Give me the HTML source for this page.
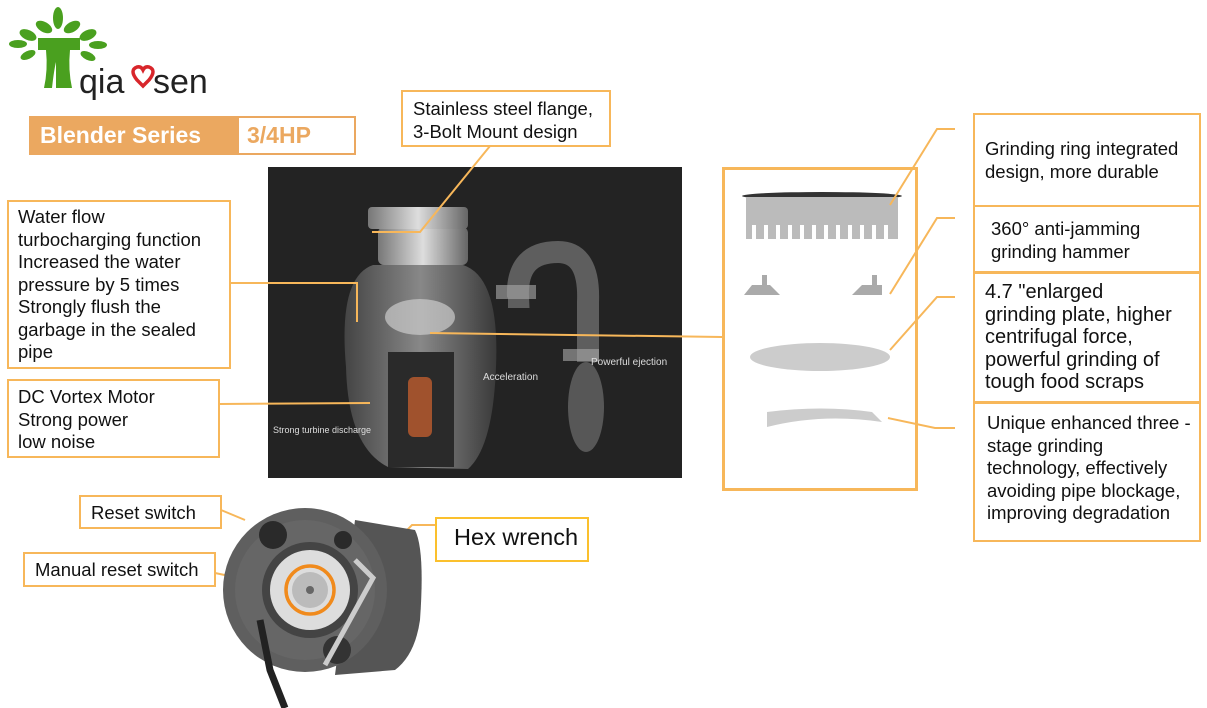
<!DOCTYPE html>
<html><head><meta charset="utf-8"><style>
body{margin:0;width:1207px;height:708px;background:#fff;position:relative;overflow:hidden;font-family:"Liberation Sans",Arial,sans-serif;color:#111}
.b{position:absolute;border:2px solid #f7b75a;box-sizing:border-box;font-size:18.5px;line-height:22.5px;background:#fff;white-space:nowrap}
.t{position:absolute;white-space:nowrap}
</style></head><body>
<!-- logo -->
<svg style="position:absolute;left:0;top:0" width="240" height="110">
 <g fill="#4aa01f">
  <ellipse cx="58" cy="18" rx="5" ry="11"/>
  <ellipse cx="44" cy="27" rx="9" ry="5" transform="rotate(30 44 27)"/>
  <ellipse cx="72" cy="27" rx="9" ry="5" transform="rotate(-30 72 27)"/>
  <ellipse cx="28" cy="35" rx="9" ry="5" transform="rotate(25 28 35)"/>
  <ellipse cx="88" cy="35" rx="9" ry="5" transform="rotate(-25 88 35)"/>
  <ellipse cx="18" cy="44" rx="9" ry="4" />
  <ellipse cx="98" cy="45" rx="9" ry="4" />
  <ellipse cx="28" cy="55" rx="8" ry="4" transform="rotate(-25 28 55)"/>
  <ellipse cx="88" cy="56" rx="8" ry="4" transform="rotate(25 88 56)"/>
  <path d="M38 38 L80 38 L80 50 L70 50 Q68 70 72 88 L56 88 L56 62 Q54 70 52 88 L44 88 Q48 70 46 50 L38 50Z"/>
 </g>
 <text x="79" y="93" font-family="Liberation Sans" font-size="34" fill="#222">qia</text>
 <path d="M137 80 q-8 -10 0 -13 q4 -1 6 3 q2 -4 6 -3 q8 3 0 13 l-6 6z" fill="none" stroke="#d8262b" stroke-width="3.5"/>
 <text x="153" y="93" font-family="Liberation Sans" font-size="34" fill="#222">sen</text>
</svg>
<div style="position:absolute;left:29px;top:116px;width:209px;height:39px;background:#eba860"></div>
<div class="t" style="left:40px;top:122px;font-size:23px;font-weight:bold;color:#fff">Blender Series</div>
<div style="position:absolute;left:237px;top:116px;width:119px;height:39px;border:2px solid #eba860;box-sizing:border-box;background:#fff"></div>
<div class="t" style="left:247px;top:122px;font-size:23px;font-weight:bold;color:#eba860">3/4HP</div>

<!-- photo -->
<svg style="position:absolute;left:268px;top:167px" width="414" height="311">
 <rect width="414" height="311" fill="#232323"/>
 <defs>
  <linearGradient id="g1" x1="0" x2="1"><stop offset="0" stop-color="#444"/><stop offset=".5" stop-color="#888"/><stop offset="1" stop-color="#3a3a3a"/></linearGradient>
  <linearGradient id="g2" x1="0" x2="1"><stop offset="0" stop-color="#777"/><stop offset=".5" stop-color="#ddd"/><stop offset="1" stop-color="#666"/></linearGradient>
 </defs>
 <path d="M105 98 Q70 110 78 200 Q80 280 120 300 L200 302 Q225 280 228 200 Q232 110 195 98Z" fill="url(#g1)"/>
 <rect x="110" y="60" width="90" height="38" rx="6" fill="url(#g2)"/>
 <rect x="100" y="40" width="100" height="22" rx="4" fill="url(#g2)"/>
 <rect x="120" y="185" width="66" height="115" fill="#2a2a2a"/>
 <rect x="140" y="210" width="24" height="60" rx="6" fill="#a0522d"/>
 <ellipse cx="152" cy="150" rx="35" ry="18" fill="#ccc" opacity=".7"/>
 <path d="M240 130 L250 130 Q248 85 290 85 Q322 85 320 135 L320 195" fill="none" stroke="#999" stroke-width="22" opacity=".5"/>
 <rect x="228" y="118" width="40" height="14" fill="#aaa" opacity=".6"/>
 <rect x="295" y="182" width="36" height="12" fill="#aaa" opacity=".6"/>
 <ellipse cx="318" cy="240" rx="18" ry="45" fill="#bbb" opacity=".35"/>
 <text x="215" y="213" fill="#ddd" font-size="10">Acceleration</text>
 <text x="323" y="198" fill="#ddd" font-size="10">Powerful ejection</text>
 <text x="5" y="266" fill="#ddd" font-size="9">Strong turbine discharge</text>
</svg>

<!-- parts panel -->
<div style="position:absolute;left:722px;top:167px;width:196px;height:324px;border:3px solid #f7b75a;box-sizing:border-box"></div>
<svg style="position:absolute;left:722px;top:167px" width="196" height="324">
 <ellipse cx="100" cy="29" rx="80" ry="4" fill="#333"/>
 <rect x="24" y="30" width="152" height="42" fill="#bbb"/>
 <g fill="#fff">
  <rect x="30" y="58" width="4" height="16"/><rect x="42" y="58" width="4" height="16"/><rect x="54" y="58" width="4" height="16"/><rect x="66" y="58" width="4" height="16"/><rect x="78" y="58" width="4" height="16"/><rect x="90" y="58" width="4" height="16"/><rect x="102" y="58" width="4" height="16"/><rect x="114" y="58" width="4" height="16"/><rect x="126" y="58" width="4" height="16"/><rect x="138" y="58" width="4" height="16"/><rect x="150" y="58" width="4" height="16"/><rect x="162" y="58" width="4" height="16"/>
 </g>
 <path d="M30 118 h18 l10 10 h-36z M40 108 h5 v12 h-5z" fill="#aaa"/>
 <path d="M130 128 l10 -10 h20 v10z M150 108 h5 v12 h-5z" fill="#aaa"/>
 <ellipse cx="98" cy="190" rx="70" ry="14" fill="#ccc"/>
 <path d="M45 245 Q100 238 150 245 L160 255 Q100 246 45 260Z" fill="#ccc"/>
</svg>

<!-- connector lines -->
<svg style="position:absolute;left:0;top:0" width="1207" height="708" fill="none" stroke="#f7b75a" stroke-width="2">
 <polyline points="490,146 420,232 372,232"/>
 <polyline points="230,283 357,283 357,322"/>
 <line x1="219" y1="404" x2="370" y2="403"/>
 <line x1="430" y1="333" x2="722" y2="337"/>
 <polyline points="955,129 937,129 890,205"/>
 <polyline points="955,218 937,218 890,294"/>
 <polyline points="955,297 937,297 890,350"/>
 <polyline points="888,418 935,428 955,428"/>
 <line x1="221" y1="510" x2="245" y2="520"/>
 <line x1="215" y1="573" x2="292" y2="589"/>
 <polyline points="435,525 412,525 365,573"/>
</svg>

<!-- boxes -->
<div class="b" style="left:401px;top:90px;width:210px;height:57px;padding:6px 0 0 10px">Stainless steel flange,<br>3-Bolt Mount design</div>
<div class="b" style="left:7px;top:200px;width:224px;height:169px;padding:4px 0 0 9px">Water flow<br>turbocharging function<br>Increased the water<br>pressure by 5 times<br>Strongly flush the<br>garbage in the sealed<br>pipe</div>
<div class="b" style="left:7px;top:379px;width:213px;height:79px;padding:5px 0 0 9px">DC Vortex Motor<br>Strong power<br>low noise</div>
<div class="b" style="left:973px;top:113px;width:228px;height:94px;padding:23px 0 0 10px">Grinding ring integrated<br>design, more durable</div>
<div class="b" style="left:973px;top:205px;width:228px;height:68px;padding:11px 0 0 16px">360° anti-jamming<br>grinding hammer</div>
<div class="b" style="left:973px;top:272px;width:228px;height:131px;padding:7px 0 0 10px;font-size:20px;line-height:22.5px">4.7 "enlarged<br>grinding plate, higher<br>centrifugal force,<br>powerful grinding of<br>tough food scraps</div>
<div class="b" style="left:973px;top:402px;width:228px;height:140px;padding:8px 0 0 12px">Unique enhanced three -<br>stage grinding<br>technology, effectively<br>avoiding pipe blockage,<br>improving degradation</div>

<!-- motor base -->
<svg style="position:absolute;left:215px;top:490px" width="215" height="218">
 <path d="M140 30 L200 40 Q210 60 205 130 Q200 165 180 180 L120 185Z" fill="#555"/>
 <circle cx="90" cy="100" r="82" fill="#5f5f5f"/>
 <circle cx="90" cy="100" r="70" fill="#666"/>
 <circle cx="58" cy="45" r="14" fill="#2a2a2a"/>
 <circle cx="128" cy="50" r="9" fill="#2a2a2a"/>
 <circle cx="122" cy="160" r="14" fill="#333"/>
 <circle cx="95" cy="100" r="48" fill="#444"/>
 <circle cx="95" cy="100" r="40" fill="#ddd"/>
 <circle cx="95" cy="100" r="18" fill="#bbb"/>
 <circle cx="95" cy="100" r="24" fill="none" stroke="#f08a1c" stroke-width="3.5"/>
 <circle cx="95" cy="100" r="4" fill="#666"/>
 <path d="M140 70 L158 88 L110 175" fill="none" stroke="#ccc" stroke-width="5"/>
 <path d="M45 130 L55 180 L70 218" fill="none" stroke="#222" stroke-width="7"/>
</svg>
<div class="b" style="left:79px;top:495px;width:143px;height:34px;padding:5px 0 0 10px">Reset switch</div>
<div class="b" style="left:23px;top:552px;width:193px;height:35px;padding:5px 0 0 10px">Manual reset switch</div>
<div class="b" style="left:435px;top:517px;width:154px;height:45px;padding:7px 0 0 17px;font-size:23.5px;border-color:#fbc02d">Hex wrench</div>
</body></html>
